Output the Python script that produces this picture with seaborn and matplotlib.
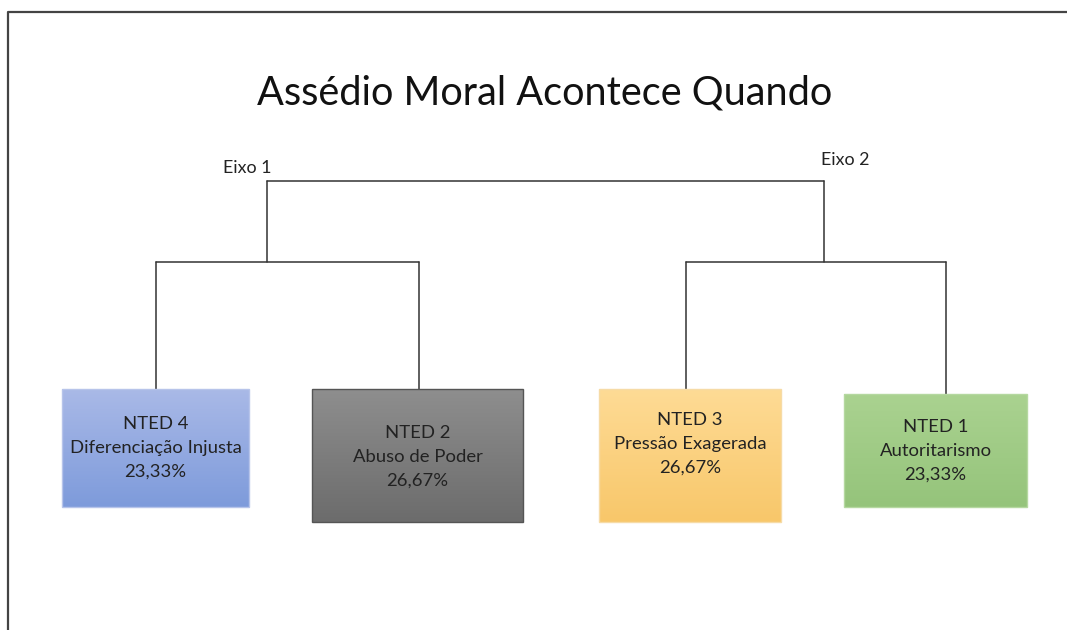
import numpy as np
import seaborn as sns
import matplotlib.pyplot as plt
from matplotlib.colors import LinearSegmentedColormap

# data
codes = ["NTED 4", "NTED 2", "NTED 3", "NTED 1"]
names = ["Diferenciação Injusta", "Abuso de Poder", "Pressão Exagerada", "Autoritarismo"]
percent = [23.33, 26.67, 26.67, 23.33]
groups = ["Eixo 1", "Eixo 1", "Eixo 2", "Eixo 2"]
group_names = ["Eixo 1", "Eixo 2"]

# layout (pixel coords of the 1067x630 canvas)
box_left = [62, 312, 599, 844]
box_width = [187, 211, 182, 183]
box_top = [389, 389, 389, 394]
box_height = [118, 133, 133, 113]
text_y = [448, 457, 444, 451]
leaf_x = [156, 419, 686, 946]
group_x = [267, 824]
group_y = 262
root_y = 181
label_pos = [(247, 173), (845, 165)]
grad = [("#a9b9e7", "#7e9bdb"), ("#8e8e8e", "#6c6c6c"),
        ("#fedb95", "#f8c76a"), ("#aad290", "#95c47b")]
edges = ["#b7c4ea", "#555555", "#f6dba6", "#b5d8a0"]

sns.set_theme(style="white")
plt.rcParams['font.family'] = ['Lato', 'DejaVu Sans']

fig = plt.figure(figsize=(10.67, 6.30), dpi=100)
ax = fig.add_axes([0, 0, 1, 1])
ax.set_xlim(0, 1067)
ax.set_ylim(630, 0)
ax.axis("off")

# frame
ax.plot([8, 8, 1067], [630, 12, 12], color="#444444", lw=1.6, solid_capstyle="butt")

ax.text(545, 105, "Assédio Moral Acontece Quando", ha="center", va="baseline",
        fontsize=28.6, color="#111111")

# tree connectors
line_kw = dict(color="#333333", lw=1.1)
ax.plot([group_x[0], group_x[1]], [root_y, root_y], **line_kw)
for gi, g in enumerate(group_names):
    gx = group_x[gi]
    ax.plot([gx, gx], [root_y, group_y], **line_kw)
    kids = [i for i, grp in enumerate(groups) if grp == g]
    ax.plot([leaf_x[kids[0]], leaf_x[kids[-1]]], [group_y, group_y], **line_kw)
    for k in kids:
        ax.plot([leaf_x[k], leaf_x[k]], [group_y, box_top[k]], **line_kw)
    ax.text(label_pos[gi][0], label_pos[gi][1], g, ha="center", va="baseline",
            fontsize=12.8, color="#222222")

# boxes
centers = [l + w / 2 for l, w in zip(box_left, box_width)]
bars = ax.bar(centers, box_height, width=box_width, bottom=box_top,
              color="none", edgecolor=edges, linewidth=1.0, zorder=3)
for i, patch in enumerate(bars.patches):
    cmap = LinearSegmentedColormap.from_list("g%d" % i, grad[i])
    img = ax.imshow(np.linspace(0, 1, 100).reshape(-1, 1), cmap=cmap, aspect="auto",
                    extent=[box_left[i], box_left[i] + box_width[i],
                            box_top[i] + box_height[i], box_top[i]], zorder=2)
    img.set_clip_path(patch)
    label = "%s\n%s\n%s%%" % (codes[i], names[i], ("%.2f" % percent[i]).replace(".", ","))
    ax.text(centers[i], text_y[i], label, ha="center", va="center", fontsize=13.3,
            color="#222222", linespacing=1.62, zorder=4)

ax.set_xlim(0, 1067)
ax.set_ylim(630, 0)
fig.savefig("out.png", dpi=100)
